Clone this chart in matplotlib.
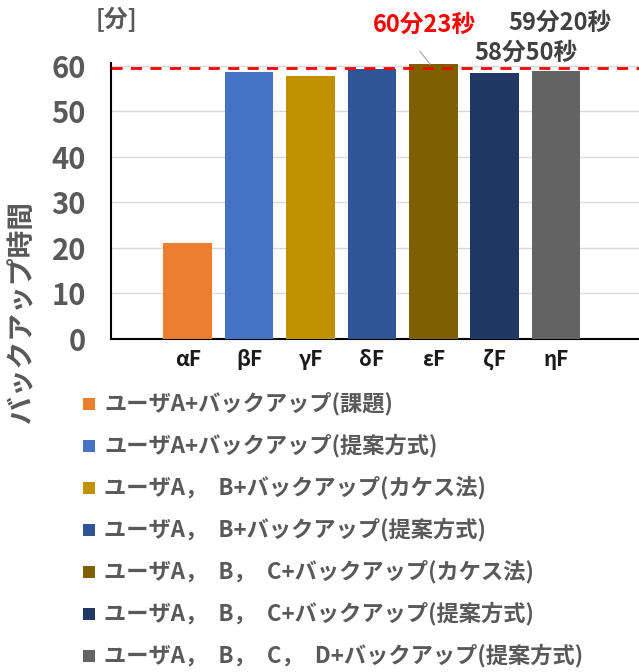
import matplotlib.pyplot as plt
from matplotlib.patches import Rectangle

plt.rcParams['font.family'] = ['Noto Sans CJK JP', 'DejaVu Sans']

# バックアップ時間 [分]
categories = ['αF', 'βF', 'γF', 'δF', 'εF', 'ζF', 'ηF']
minutes = [21.0, 58.6, 57.7, 59.2, 60 + 23 / 60, 58.4, 58 + 50 / 60]
colors = ['#ED7D31', '#4472C4', '#BF9000', '#2F5597', '#7F6000', '#203864', '#636363']
legend_labels = [
    'ユーザA+バックアップ(課題)',
    'ユーザA+バックアップ(提案方式)',
    'ユーザA，\u2002B+バックアップ(カケス法)',
    'ユーザA，\u2002B+バックアップ(提案方式)',
    'ユーザA，\u2002B，\u2002C+バックアップ(カケス法)',
    'ユーザA，\u2002B，\u2002C+バックアップ(提案方式)',
    'ユーザA，\u2002B，\u2002C，\u2002D+バックアップ(提案方式)',
]
limit_line = 59.6
yticks = [0, 10, 20, 30, 40, 50, 60]

W, H = 639, 672
fig = plt.figure(figsize=(W / 100, H / 100), dpi=100)

# 軸の位置はピクセルで指定
left, bottom, right, top = 111, 339, 639, 63
ax = fig.add_axes([left / W, 1 - bottom / H, (right - left) / W, (bottom - top) / H])

x = list(range(len(categories)))
ax.bar(x, minutes, width=0.79, color=colors, zorder=3)
ax.set_xlim(-1.25, 7.35)
ax.set_ylim(0, 60.6)

ax.set_yticks(yticks)
ax.set_yticklabels([str(v) for v in yticks], fontsize=21, fontweight='bold', color='#595959')
ax.set_xticks(x)
ax.set_xticklabels(categories, fontsize=15, fontweight='bold', color='#1a1a1a')
ax.tick_params(axis='both', length=0)
ax.tick_params(axis='y', pad=18)
ax.tick_params(axis='x', pad=7)

ax.grid(axis='y', color='#d9d9d9', linewidth=1, zorder=0)
for s in ['top', 'right']:
    ax.spines[s].set_visible(False)
ax.spines['left'].set_color('black')
ax.spines['left'].set_linewidth(1.5)
ax.spines['bottom'].set_color('black')
ax.spines['bottom'].set_linewidth(1.5)

# 目標時間の赤い破線
ax.axhline(limit_line, color='#ff0000', linestyle=(0, (4, 3)), linewidth=2, zorder=4, clip_on=False)

# 値ラベル
fig.text(424 / W, 1 - 25 / H, '60分23秒', fontsize=17, fontweight='bold', color='#ff0000',
         ha='center', va='center')
fig.text(560 / W, 1 - 23 / H, '59分20秒', fontsize=17, fontweight='bold', color='#404040',
         ha='center', va='center')
fig.text(526 / W, 1 - 53 / H, '58分50秒', fontsize=17, fontweight='bold', color='#404040',
         ha='center', va='center')
ax.annotate('', xy=(3.98, 59.8), xycoords='data',
            xytext=(418 / W, 1 - 49 / H), textcoords='figure fraction',
            arrowprops=dict(arrowstyle='-', color='#a6a6a6', linewidth=0.8), annotation_clip=False)

fig.text(116 / W, 1 - 20 / H, '[分]', fontsize=17, fontweight='bold', color='#595959',
         ha='center', va='center')
fig.text(22 / W, 1 - 312 / H, 'バックアップ時間', fontsize=20, fontweight='bold', color='#595959',
         ha='center', va='center', rotation=90)

# 凡例
row_y = [404, 446, 488, 530, 572, 614, 656]
for lbl, col, yy in zip(legend_labels, colors, row_y):
    fig.patches.append(Rectangle((83 / W, 1 - (yy + 6) / H), 12 / W, 12 / H,
                                 transform=fig.transFigure, facecolor=col, edgecolor='none'))
    fig.text(104 / W, 1 - yy / H, lbl, fontsize=16, fontweight='bold', color='#595959',
             ha='left', va='center')

fig.savefig('out.png', dpi=100)
